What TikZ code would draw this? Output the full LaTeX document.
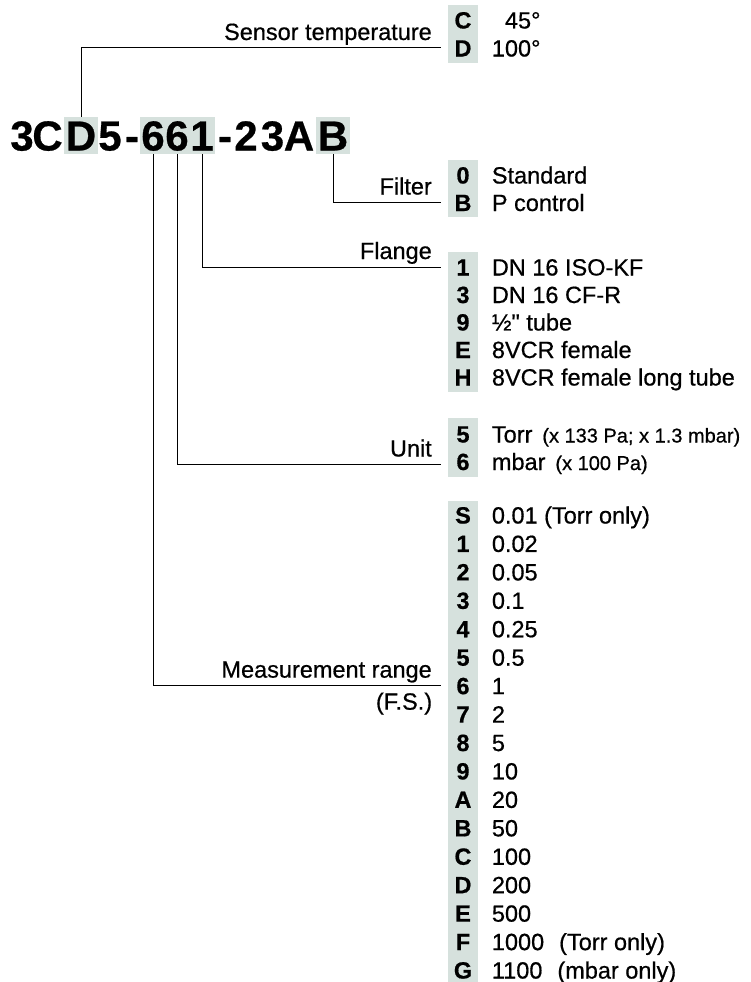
\documentclass[tikz,border=0pt]{standalone}
\usepackage{fontspec}
\setmainfont{Liberation Sans}[Ligatures=TeXOff, FakeBold=0.6]
\usetikzlibrary{positioning,fit,backgrounds}
\definecolor{codeshade}{HTML}{D6E1DD}
\newcommand\smallpart[1]{{\fontsize{20}{24}\selectfont #1}}

\begin{document}
\begin{tikzpicture}[x=1pt, y=-1pt,
    chr/.style={font=\bfseries\fontsize{42}{42}\selectfont, inner sep=0pt, minimum height=37pt, text height=30pt, text depth=0pt},
    code/.style={font=\bfseries\fontsize{23.5}{27}\selectfont, inner sep=0pt, minimum width=29pt, minimum height=27pt, text height=17pt, text depth=0pt},
    item/.style={font=\fontsize{23.5}{27}\selectfont, inner sep=0pt, text height=17pt, text depth=0pt},
    note/.style={font=\fontsize{23.5}{27}\selectfont, inner sep=0pt},
    lbl/.style={note, anchor=base east, xshift=-9pt, yshift=8pt},
    colbox/.style={fill=codeshade, draw=none, inner xsep=1.5pt, inner ysep=0pt},
    wire/.style={line width=1pt, black},
]
\useasboundingbox (0,0) rectangle (751,982);

% Order code
\foreach \x/\ch [count=\i] in {22/3, 47.5/C, 81/D, 110/5, 132/-, 153/6, 177/6, 202/1, 225/-, 246/2, 272.5/3, 299/A, 333/B}
    \node[chr] (ch\i) at (\x,135.5) {\ch};

% Sensor temperature
\foreach \c/\t [count=\i] in {C/{\phantom{1}45°}, D/100°} {
    \node[code] (temp\i) at (463,{20+(\i-1)*28}) {\c};
    \node[item, right=14pt of temp\i] (temptxt\i) {\t};
}

% Filter
\foreach \c/\t [count=\i] in {0/Standard, B/P control} {
    \node[code] (filt\i) at (463,{175+(\i-1)*27.5}) {\c};
    \node[item, right=14pt of filt\i] (filttxt\i) {\t};
}

% Flange
\foreach \c/\t [count=\i] in {1/DN 16 ISO-KF, 3/DN 16 CF-R, 9/{½" tube}, E/8VCR female, H/8VCR female long tube} {
    \node[code] (flange\i) at (463,{267+(\i-1)*27.5}) {\c};
    \node[item, right=14pt of flange\i] (flangetxt\i) {\t};
}

% Unit
\foreach \c/\t [count=\i] in {5/{Torr\hspace{10pt}\smallpart{(x 133 Pa; x 1.3 mbar)}}, 6/{mbar\hspace{10pt}\smallpart{(x 100 Pa)}}} {
    \node[code] (unit\i) at (463,{434+(\i-1)*27.5}) {\c};
    \node[item, right=14pt of unit\i] (unittxt\i) {\t};
}

% Measurement range
\foreach \c/\t [count=\i] in {S/0.01 (Torr only), 1/0.02, 2/0.05, 3/0.1, 4/0.25, 5/0.5, 6/1, 7/2, 8/5, 9/10, A/20, B/50, C/100, D/200, E/500, F/{1000\hspace{15pt}(Torr only)}, G/{1100\hspace{15pt}(mbar only)}} {
    \node[code] (range\i) at (463,{515+(\i-1)*28.44}) {\c};
    \node[item, right=14pt of range\i] (rangetxt\i) {\t};
}

% Shading
\begin{scope}[on background layer]
    \node[colbox, fit=(ch3)] {};
    \node[colbox, fit=(ch6)(ch8)] {};
    \node[colbox, fit=(ch13)] {};
    \node[colbox, inner xsep=0pt, inner ysep=1pt, fit=(temp1)(temp2)] {};
    \node[colbox, inner xsep=0pt, inner ysep=1pt, fit=(filt1)(filt2)] {};
    \node[colbox, inner xsep=0pt, inner ysep=1.5pt, fit=(flange1)(flange5)] {};
    \node[colbox, inner xsep=0pt, inner ysep=2pt, fit=(unit1)(unit2)] {};
    \node[colbox, inner xsep=0pt, fit=(range1)(range17)] {};
\end{scope}

% Leaders
\draw[wire] (ch3.north) |- ([xshift=-7pt]temp2.west) node[lbl] {Sensor temperature};
\draw[wire] (ch13.south) |- ([xshift=-7pt]filt2.west) node[lbl] {Filter};
\draw[wire] (ch8.south) |- ([xshift=-7pt]flange1.west) node[lbl] {Flange};
\draw[wire] (ch7.south) |- ([xshift=-7pt,yshift=-3pt]unit2.west) node[lbl] {Unit};
\draw[wire] (ch6.south) |- ([xshift=-7pt]range7.west) node[lbl] (mrange) {Measurement range};
\node[note, anchor=base east] (fs) at ([yshift=-32pt]mrange.base east) {(F.S.)};

\end{tikzpicture}
\end{document}
